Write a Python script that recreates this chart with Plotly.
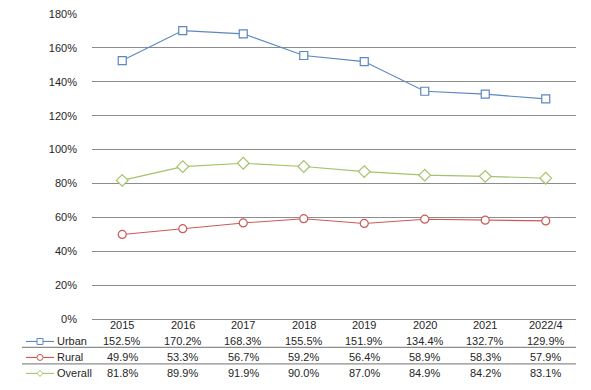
import plotly.graph_objects as go

categories = ["2015", "2016", "2017", "2018", "2019", "2020", "2021", "2022/4"]
urban = [1.525, 1.702, 1.683, 1.555, 1.519, 1.344, 1.327, 1.299]
rural = [0.499, 0.533, 0.567, 0.592, 0.564, 0.589, 0.583, 0.579]
overall = [0.818, 0.899, 0.919, 0.900, 0.870, 0.849, 0.842, 0.831]
y_ticks = [0, 0.2, 0.4, 0.6, 0.8, 1.0, 1.2, 1.4, 1.6, 1.8]

series = [
    ("Urban", urban, "#5B87C2", "square"),
    ("Rural", rural, "#CB5A57", "circle"),
    ("Overall", overall, "#A3C36A", "diamond"),
]

W, H = 591, 390
L, R, T, B = 92, 15, 14, 70.5
FONT = "Liberation Sans, Arial, sans-serif"
TXT = "#262626"

fig = go.Figure()
for name, vals, color, sym in series:
    fig.add_trace(go.Scatter(
        x=list(range(len(categories))), y=vals, mode="lines+markers", name=name,
        line=dict(color=color, width=1.1),
        marker=dict(symbol=sym, size=8 if sym != "diamond" else 9, color="white",
                    line=dict(color=color, width=1.2)),
        showlegend=False, cliponaxis=False, hoverinfo="skip",
    ))

plot_h = H - T - B


def ypaper(py):
    return (H - B - py) / plot_h


def xpaper(px):
    return (px - L) / (W - L - R)


annotations = []
shapes = []

for i, c in enumerate(categories):
    annotations.append(dict(x=i, y=ypaper(326), xref="x", yref="paper",
                            text=c, showarrow=False,
                            font=dict(family=FONT, size=11, color=TXT),
                            xanchor="center", yanchor="middle"))

row_y = [342, 358, 374]
for (name, vals, color, sym), ry in zip(series, row_y):
    for i, v in enumerate(vals):
        annotations.append(dict(x=i, y=ypaper(ry), xref="x", yref="paper",
                                text=f"{v*100:.1f}%", showarrow=False,
                                font=dict(family=FONT, size=11, color=TXT),
                                xanchor="center", yanchor="middle"))
    annotations.append(dict(x=xpaper(55), y=ypaper(ry), xref="paper", yref="paper",
                            text=name, showarrow=False,
                            font=dict(family=FONT, size=11, color=TXT),
                            xanchor="left", yanchor="middle"))
    shapes.append(dict(type="line", xref="paper", yref="paper",
                       x0=xpaper(26), x1=xpaper(54), y0=ypaper(ry), y1=ypaper(ry),
                       line=dict(color=color, width=1.1)))
    cx, cy, s = 40, ry, 3.0
    if sym == "square":
        shapes.append(dict(type="rect", xref="paper", yref="paper",
                           x0=xpaper(cx - s), x1=xpaper(cx + s),
                           y0=ypaper(cy + s), y1=ypaper(cy - s),
                           fillcolor="white", line=dict(color=color, width=1)))
    elif sym == "circle":
        shapes.append(dict(type="circle", xref="paper", yref="paper",
                           x0=xpaper(cx - s), x1=xpaper(cx + s),
                           y0=ypaper(cy + s), y1=ypaper(cy - s),
                           fillcolor="white", line=dict(color=color, width=1)))
    else:
        path = (f"M {xpaper(cx - s)} {ypaper(cy)} L {xpaper(cx)} {ypaper(cy - s)} "
                f"L {xpaper(cx + s)} {ypaper(cy)} L {xpaper(cx)} {ypaper(cy + s)} Z")
        shapes.append(dict(type="path", xref="paper", yref="paper", path=path,
                           fillcolor="white", line=dict(color=color, width=1)))

for ly in [348, 364.5]:
    shapes.append(dict(type="line", xref="paper", yref="paper",
                       x0=xpaper(22), x1=1, y0=ypaper(ly), y1=ypaper(ly),
                       line=dict(color="#8C8C8C", width=1.2)))

fig.update_layout(
    width=W, height=H, autosize=False,
    margin=dict(l=L, r=R, t=T, b=B, autoexpand=False),
    paper_bgcolor="white", plot_bgcolor="white",
    font=dict(family=FONT, size=11, color=TXT),
    annotations=annotations, shapes=shapes,
    showlegend=False, hovermode=False,
)
fig.update_xaxes(showticklabels=False, showgrid=False, automargin=False,
                 zeroline=False, showline=False, ticks="",
                 range=[-0.5, len(categories) - 0.5])
fig.update_yaxes(range=[0, 1.8], tickvals=y_ticks, tickformat=".0%",
                 showgrid=True, gridcolor="#8C8C8C", gridwidth=1.2,
                 zeroline=True, zerolinecolor="#8C8C8C", zerolinewidth=1.2,
                 showline=False, ticks="", automargin=False,
                 ticklabelstandoff=14,
                 tickfont=dict(family=FONT, size=11, color=TXT))

fig.write_html("out.html", config={"displayModeBar": False},
               post_script="document.body.style.margin='0';document.body.style.overflow='hidden';")
